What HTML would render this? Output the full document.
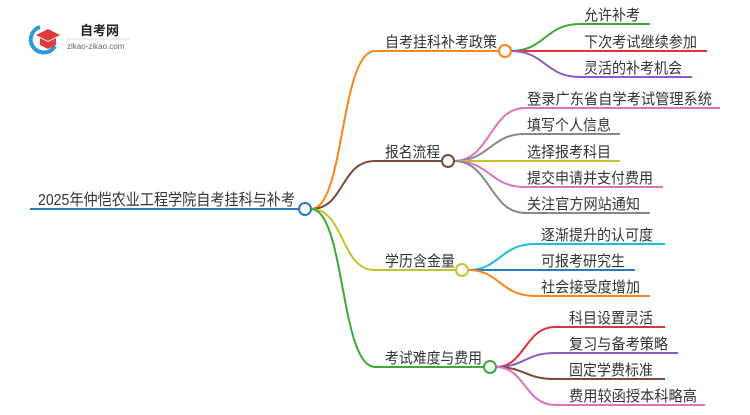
<!DOCTYPE html>
<html><head><meta charset="utf-8"><style>
body{margin:0;background:#fff}
svg text{font-family:"Liberation Sans","Noto Sans CJK SC",sans-serif;fill:#333}
</style></head><body>
<svg width="750" height="410" viewBox="0 0 750 410" xmlns="http://www.w3.org/2000/svg">
<g>
<path d="M40 27 A13 13 0 1 0 55 46" fill="none" stroke="#2a9bd6" stroke-width="4"/>
<path d="M36 35 L48 29 L60 35 L48 41 Z" fill="#e03a3a"/>
<path d="M40 38 L40 45 L48 49 L56 45 L56 38 L48 42 Z" fill="#e03a3a"/>
<text x="80" y="35" font-size="13" font-weight="bold" style="fill:#222">自考网</text>
<line x1="66" y1="39" x2="130" y2="39" stroke="#ddd" stroke-width="1"/>
<text x="67" y="49" font-size="8" style="fill:#666">zikao-zikao.com</text>
</g>
<g fill="none" stroke-width="2">
<line x1="30" y1="209" x2="299" y2="209" stroke="#2a7bbf"/>
<path d="M311 209 C345 209 340 51 375 51 L499 51" stroke="#f7861c"/>
<path d="M311 209 C345 209 340 161 375 161 L442 161" stroke="#7a4a3a"/>
<path d="M311 209 C345 209 340 270 375 270 L456 270" stroke="#c6c22a"/>
<path d="M311 209 C345 209 340 367 375 367 L484 367" stroke="#3aaa35"/>
<path d="M511 51 C545 51 545 24 580 24 L650 24" stroke="#3aaa35"/>
<path d="M511 51 L707 51" stroke="#e0303a"/>
<path d="M511 51 C545 51 545 77 580 77 L692 77" stroke="#8e5cc2"/>
<path d="M454 161 C490 161 490 108 525 108 L720 108" stroke="#e070c0"/>
<path d="M454 161 C490 161 490 134 525 134 L620 134" stroke="#888"/>
<path d="M454 161 L620 161" stroke="#c6c22a"/>
<path d="M454 161 C490 161 490 187 525 187 L663 187" stroke="#e070c0"/>
<path d="M454 161 C490 161 490 213 525 213 L650 213" stroke="#888"/>
<path d="M468 270 C500 270 500 244 535 244 L665 244" stroke="#1bbdd8"/>
<path d="M468 270 L635 270" stroke="#2a7bbf"/>
<path d="M468 270 C500 270 500 296 535 296 L650 296" stroke="#f7861c"/>
<path d="M496 367 C525 367 525 327 555 327 L665 327" stroke="#e0303a"/>
<path d="M496 367 C525 367 525 353 555 353 L678 353" stroke="#8e5cc2"/>
<path d="M496 367 C525 367 525 379 555 379 L665 379" stroke="#7a4a3a"/>
<path d="M496 367 C525 367 525 405 555 405 L705 405" stroke="#e070c0"/>
</g>
<g fill="#fff" stroke-width="2">
<circle cx="305" cy="209" r="6" stroke="#2a7bbf"/>
<circle cx="505" cy="51" r="6" stroke="#f7861c"/>
<circle cx="448" cy="161" r="6" stroke="#7a4a3a"/>
<circle cx="462" cy="270" r="6" stroke="#c6c22a"/>
<circle cx="490" cy="367" r="6" stroke="#3aaa35"/>
</g>
<g font-size="15">
<text x="38" y="205" font-size="16" textLength="257" lengthAdjust="spacingAndGlyphs">2025年仲恺农业工程学院自考挂科与补考</text>
<text x="385" y="47" textLength="112" lengthAdjust="spacingAndGlyphs">自考挂科补考政策</text>
<text x="385" y="157" textLength="55" lengthAdjust="spacingAndGlyphs">报名流程</text>
<text x="385" y="266" textLength="70" lengthAdjust="spacingAndGlyphs">学历含金量</text>
<text x="385" y="363" textLength="97" lengthAdjust="spacingAndGlyphs">考试难度与费用</text>
<text x="584" y="20" textLength="56" lengthAdjust="spacingAndGlyphs">允许补考</text>
<text x="584" y="47" textLength="113" lengthAdjust="spacingAndGlyphs">下次考试继续参加</text>
<text x="584" y="73" textLength="98" lengthAdjust="spacingAndGlyphs">灵活的补考机会</text>
<text x="527" y="104" textLength="185" lengthAdjust="spacingAndGlyphs">登录广东省自学考试管理系统</text>
<text x="527" y="130" textLength="84" lengthAdjust="spacingAndGlyphs">填写个人信息</text>
<text x="527" y="157" textLength="84" lengthAdjust="spacingAndGlyphs">选择报考科目</text>
<text x="527" y="183" textLength="126" lengthAdjust="spacingAndGlyphs">提交申请并支付费用</text>
<text x="527" y="209" textLength="113" lengthAdjust="spacingAndGlyphs">关注官方网站通知</text>
<text x="541" y="240" textLength="112" lengthAdjust="spacingAndGlyphs">逐渐提升的认可度</text>
<text x="541" y="266" textLength="84" lengthAdjust="spacingAndGlyphs">可报考研究生</text>
<text x="541" y="292" textLength="99" lengthAdjust="spacingAndGlyphs">社会接受度增加</text>
<text x="569" y="323" textLength="84" lengthAdjust="spacingAndGlyphs">科目设置灵活</text>
<text x="569" y="349" textLength="99" lengthAdjust="spacingAndGlyphs">复习与备考策略</text>
<text x="569" y="375" textLength="84" lengthAdjust="spacingAndGlyphs">固定学费标准</text>
<text x="569" y="401" textLength="128" lengthAdjust="spacingAndGlyphs">费用较函授本科略高</text>
</g>
</svg>
</body></html>
